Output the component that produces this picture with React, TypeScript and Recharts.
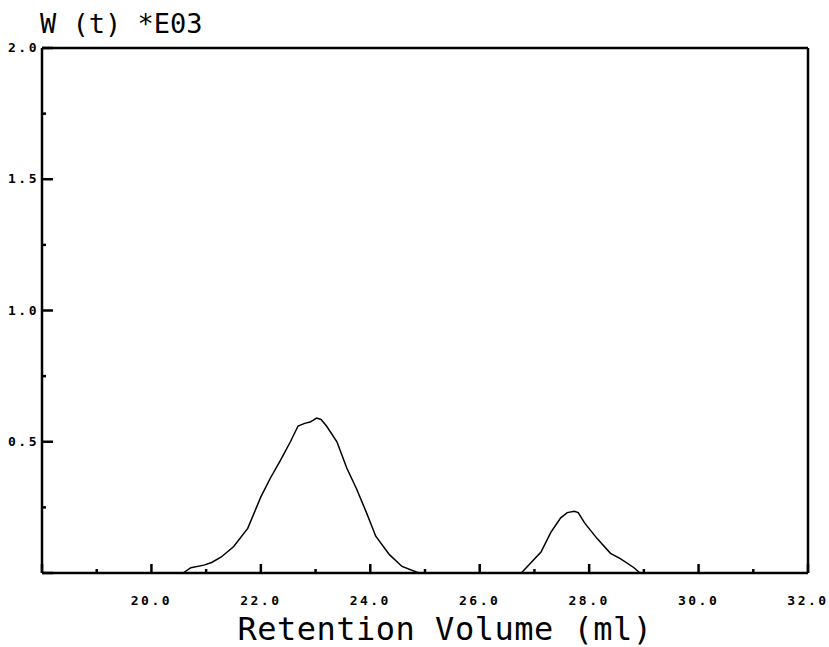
import { LineChart, Line, XAxis, YAxis, ReferenceLine } from "recharts";

// retention volume (ml) and W(t) *E03
const retentionVolume = [
  18.0, 20.58, 20.72, 20.96, 21.1, 21.27, 21.5, 21.76, 22.0, 22.17, 22.36, 22.54,
  22.68, 22.8, 22.9, 23.02, 23.1, 23.2, 23.39, 23.57, 23.75, 23.93, 24.1, 24.35,
  24.58, 24.83, 24.9, 26.76, 26.94, 27.12, 27.3, 27.48, 27.6, 27.73, 27.8, 27.92,
  28.15, 28.39, 28.57, 28.82, 28.93, 32.0
];
const weight = [
  0, 0, 0.02, 0.03, 0.04, 0.06, 0.1, 0.17, 0.29, 0.36, 0.43, 0.5,
  0.56, 0.57, 0.575, 0.59, 0.585, 0.56, 0.5, 0.4, 0.32, 0.23, 0.14, 0.07,
  0.025, 0.005, 0, 0, 0.04, 0.08, 0.155, 0.21, 0.23, 0.235, 0.23, 0.19,
  0.13, 0.075, 0.055, 0.02, 0, 0
];

const xTicks = [18, 19, 20, 21, 22, 23, 24, 25, 26, 27, 28, 29, 30, 31, 32];
const yTicks = [0, 0.25, 0.5, 0.75, 1.0, 1.25, 1.5, 1.75, 2.0];

const data = retentionVolume.map((v, i) => ({ v, w: weight[i] }));

const mono = "'DejaVu Sans Mono', monospace";

const XTick = (props: any) => {
  const { x, y, payload } = props;
  const val = payload.value as number;
  const major = val % 2 === 0;
  return (
    <g>
      <line x1={x} x2={x} y1={y} y2={y - (major ? 9 : 4)} stroke="#000" strokeWidth={2.5} />
      {major && val >= 20 && (
        <text
          x={x}
          y={y + 32}
          textAnchor="middle"
          fontFamily={mono}
          fontWeight="bold"
          fontSize={13}
          letterSpacing={2.5}
          fill="#000"
        >
          {val.toFixed(1)}
        </text>
      )}
    </g>
  );
};

const YTick = (props: any) => {
  const { x, y, payload } = props;
  const val = payload.value as number;
  const major = Math.abs(val * 2 - Math.round(val * 2)) < 1e-6;
  return (
    <g>
      <line x1={x} x2={x + (major ? 11 : 4)} y1={y} y2={y} stroke="#000" strokeWidth={2.5} />
      {major && val > 0 && (
        <text
          x={x - 3}
          y={y + 4}
          textAnchor="end"
          fontFamily={mono}
          fontWeight="bold"
          fontSize={13}
          letterSpacing={2.5}
          fill="#000"
        >
          {val.toFixed(1)}
        </text>
      )}
    </g>
  );
};

export default function App() {
  return (
    <div style={{ position: "absolute", left: 0, top: 0, background: "#fff" }}>
      <LineChart
        width={829}
        height={647}
        data={data}
        margin={{ top: 48, right: 21, bottom: 0, left: 0 }}
      >
        <XAxis
          dataKey="v"
          type="number"
          domain={[18, 32]}
          ticks={xTicks}
          interval={0}
          tickSize={0}
          tickMargin={0}
          tickLine={false}
          tick={<XTick />}
          height={74}
          axisLine={{ stroke: "#000", strokeWidth: 2.5 }}
          label={{
            content: ({ viewBox }: any) => (
              <text
                x={viewBox.x + viewBox.width / 2 + 20}
                y={viewBox.y + viewBox.height - 7}
                textAnchor="middle"
                fontFamily={mono}
                fontSize={32}
                letterSpacing={0.5}
                fill="#000"
              >
                Retention Volume (ml)
              </text>
            )
          }}
        />
        <YAxis
          type="number"
          domain={[0, 2]}
          ticks={yTicks}
          interval={0}
          tickSize={0}
          tickMargin={0}
          tickLine={false}
          tick={<YTick />}
          width={42}
          axisLine={{ stroke: "#000", strokeWidth: 2.5 }}
          label={{
            content: ({ viewBox }: any) => (
              <text
                x={viewBox.x + viewBox.width - 2}
                y={viewBox.y - 15}
                textAnchor="start"
                fontFamily={mono}
                fontSize={27}
                fill="#000"
              >
                W (t) *E03
              </text>
            )
          }}
        />
        <ReferenceLine y={2} stroke="#000" strokeWidth={2.5} />
        <ReferenceLine x={32} stroke="#000" strokeWidth={2.5} />
        <Line
          type="linear"
          dataKey="w"
          stroke="#000"
          strokeWidth={1.5}
          dot={false}
          isAnimationActive={false}
        />
      </LineChart>
    </div>
  );
}
